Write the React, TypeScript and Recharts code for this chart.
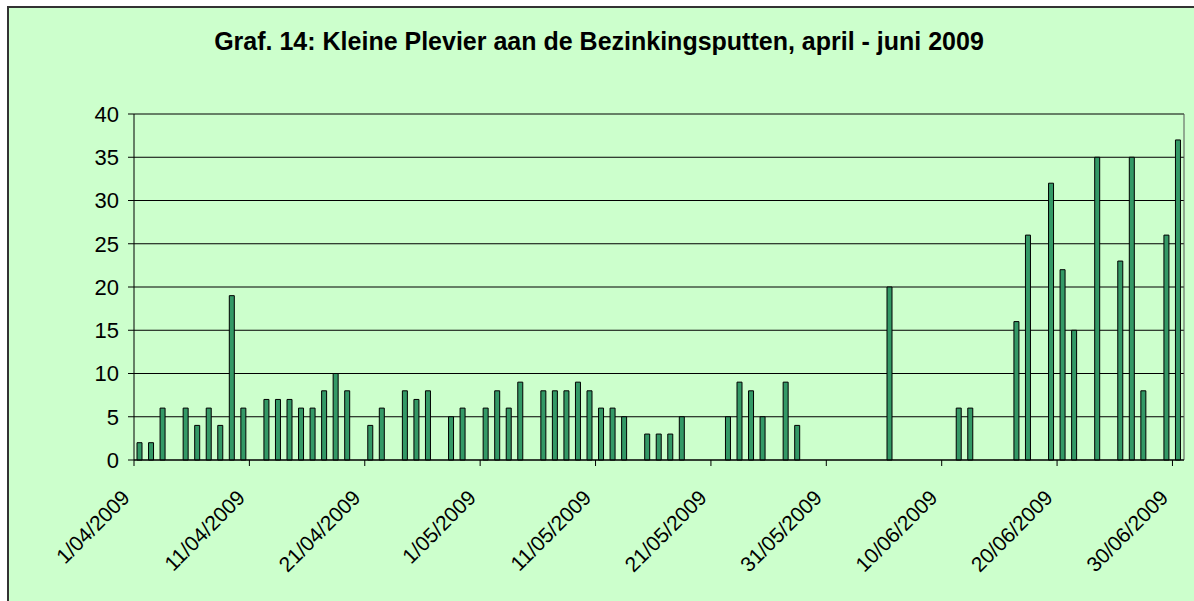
import React from 'react';
import { BarChart, Bar, XAxis, YAxis, CartesianGrid, ReferenceLine } from 'recharts';

// observation days (day/month, 2009) and number of birds counted
const obsDates = [
  '1/04', '2/04', '3/04', '5/04', '6/04', '7/04', '8/04', '9/04', '10/04', '12/04', '13/04', '14/04',
  '15/04', '16/04', '17/04', '18/04', '19/04', '21/04', '22/04', '24/04', '25/04', '26/04', '28/04', '29/04',
  '1/05', '2/05', '3/05', '4/05', '6/05', '7/05', '8/05', '9/05', '10/05', '11/05', '12/05', '13/05',
  '15/05', '16/05', '17/05', '18/05', '22/05', '23/05', '24/05', '25/05', '27/05', '28/05',
  '5/06', '11/06', '12/06', '16/06', '17/06', '19/06', '20/06', '21/06', '23/06', '25/06', '26/06', '27/06',
  '29/06', '30/06'
];
const counts = [
  2, 2, 6, 6, 4, 6, 4, 19, 6, 7, 7, 7,
  6, 6, 8, 10, 8, 4, 6, 8, 7, 8, 5, 6,
  6, 8, 6, 9, 8, 8, 8, 9, 8, 6, 6, 5,
  3, 3, 3, 5, 5, 9, 8, 5, 9, 4,
  20, 6, 6, 16, 26, 32, 22, 15, 35, 23, 35, 8,
  26, 37
];

const xTicks = [0, 10, 20, 30, 40, 50, 60, 70, 80, 90];
const xTickLabels = [
  '1/04/2009', '11/04/2009', '21/04/2009', '1/05/2009', '11/05/2009',
  '21/05/2009', '31/05/2009', '10/06/2009', '20/06/2009', '30/06/2009'
];
const yTicks = [0, 5, 10, 15, 20, 25, 30, 35, 40];

const monthStart: Record<string, number> = { '04': 0, '05': 30, '06': 61 };
const NUM_DAYS = 91;

// day index from 1 April; bars sit in the middle of their day slot
const data = obsDates.map((d, i) => {
  const [day, month] = d.split('/');
  return { x: monthStart[month] + Number(day) - 1 + 0.5, count: counts[i] };
});

const FONT = '"Liberation Sans", Arial, sans-serif';
const W = 1185;
const H = 595;

const DateTick = (props: any) => {
  const { x, y, payload } = props;
  const idx = xTicks.indexOf(payload.value);
  const px = x - 3;
  const py = y + 31;
  return (
    <text
      x={px}
      y={py}
      transform={`rotate(-45, ${px}, ${py})`}
      textAnchor="end"
      fontSize={21}
      fontFamily={FONT}
      fill="#000"
    >
      {xTickLabels[idx]}
    </text>
  );
};

export default function App() {
  return (
    <div
      style={{
        position: 'absolute',
        left: 7,
        top: 6,
        width: W,
        height: H,
        background: '#CCFFCC',
        borderLeft: '2px solid #333',
        borderTop: '2px solid #333',
        fontFamily: FONT,
      }}
    >
      <div
        style={{
          position: 'absolute',
          left: 0,
          width: 1180,
          top: 19,
          textAlign: 'center',
          fontWeight: 'bold',
          fontSize: 25,
          color: '#000',
        }}
      >
        Graf. 14: Kleine Plevier aan de Bezinkingsputten, april - juni 2009
      </div>
      <BarChart
        width={W}
        height={H}
        data={data}
        margin={{ top: 106, right: 10, left: 65, bottom: 43 }}
        style={{ position: 'absolute', left: 0, top: 0 }}
      >
        <CartesianGrid vertical={false} stroke="#000" strokeWidth={1} />
        <XAxis
          dataKey="x"
          type="number"
          domain={[0, NUM_DAYS]}
          ticks={xTicks}
          allowDataOverflow
          interval={0}
          tickSize={6}
          tickLine={{ stroke: '#000' }}
          axisLine={{ stroke: '#000' }}
          tick={<DateTick />}
          height={100}
        />
        <YAxis
          domain={[0, 40]}
          ticks={yTicks}
          interval={0}
          width={60}
          tickSize={6}
          tickMargin={9}
          tickLine={{ stroke: '#000' }}
          axisLine={{ stroke: '#000' }}
          tick={{ fill: '#000', fontSize: 22, fontFamily: FONT }}
        />
        <ReferenceLine x={NUM_DAYS} stroke="#555" strokeWidth={1} />
        <Bar
          dataKey="count"
          fill="#339966"
          stroke="#000"
          strokeWidth={1}
          barSize={5}
          isAnimationActive={false}
        />
      </BarChart>
    </div>
  );
}
